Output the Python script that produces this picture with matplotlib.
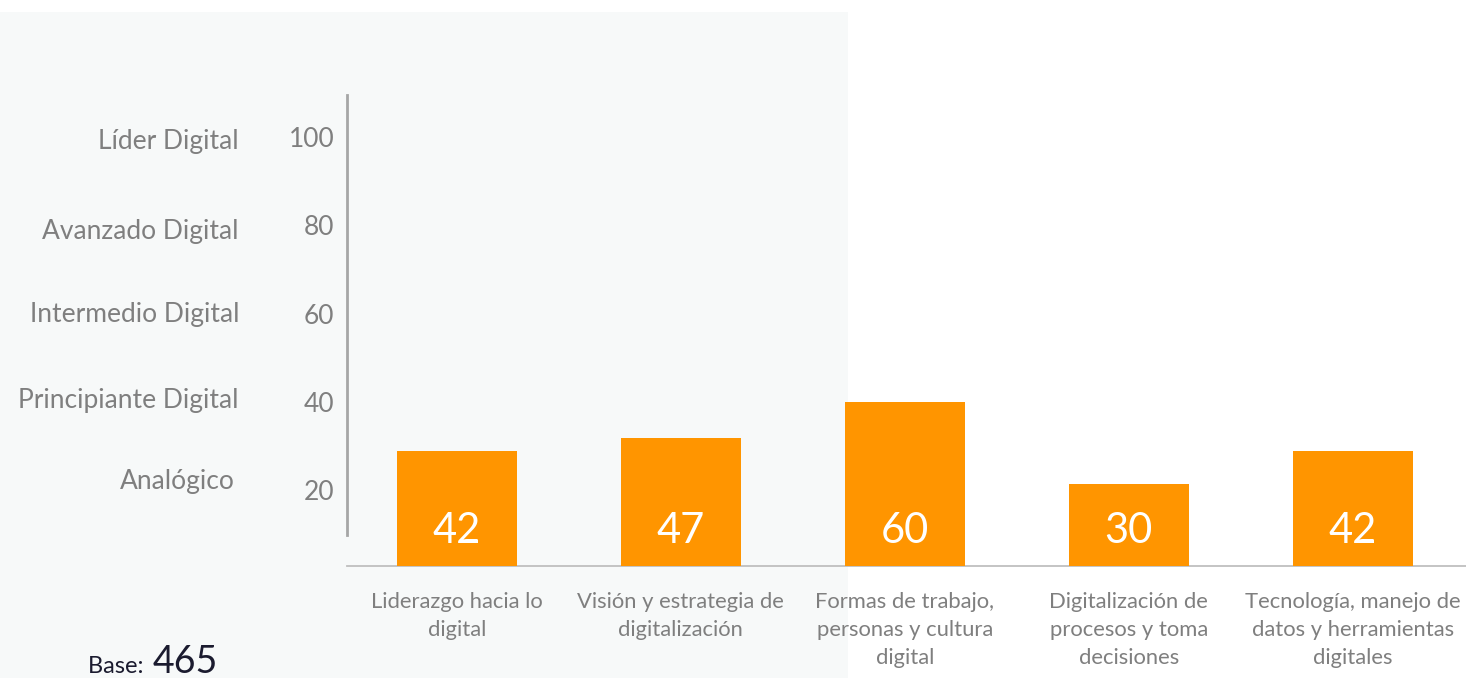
import matplotlib.pyplot as plt
from matplotlib.transforms import blended_transform_factory, offset_copy
from matplotlib.patches import Rectangle

plt.rcParams['font.family'] = ['Lato', 'DejaVu Sans']

# datos
categorias = ['Liderazgo hacia lo\ndigital',
              'Visión y estrategia de\ndigitalización',
              'Formas de trabajo,\npersonas y cultura\ndigital',
              'Digitalización de\nprocesos y toma\ndecisiones',
              'Tecnología, manejo de\ndatos y herramientas\ndigitales']
valores = [42, 47, 60, 30, 42]
escala_ticks = [100, 80, 60, 40, 20]
niveles = ['Líder Digital', 'Avanzado Digital', 'Intermedio Digital',
           'Principiante Digital', 'Analógico']
base_n = 465

GRIS = '#7F7F7F'
NARANJA = '#FF9500'
W, H = 1466, 678

fig = plt.figure(figsize=(W / 100, H / 100), dpi=100)
fig.patch.set_facecolor('white')

# panel gris claro a la izquierda
fig.patches.append(Rectangle((0, 0), 848 / W, (H - 12) / H, transform=fig.transFigure,
                             facecolor='#F7F9F9', edgecolor='none', zorder=-10))

rect = [347 / W, (H - 566) / H, (W - 347) / W, (566 - 95) / H]
ax = fig.add_axes(rect)
ax.patch.set_alpha(0)
x = list(range(len(valores)))
barras = ax.bar(x, valores, width=0.535, color=NARANJA, zorder=3)
ax.set_xlim(-0.49, 4.505)
ax.set_ylim(0, 172.5)

for b, v in zip(barras, valores):
    ax.text(b.get_x() + b.get_width() / 2, 12.8, str(v), ha='center', va='center',
            color='white', fontsize=30)

ax.set_xticks(x)
ax.set_xticklabels(categorias, fontsize=15.8, color=GRIS, linespacing=1.5, va='top')
ax.tick_params(axis='x', length=0, pad=18.5)
ax.set_yticks([])
for s in ['top', 'right']:
    ax.spines[s].set_visible(False)
ax.spines['bottom'].set_color('#BFBFBF')
ax.spines['bottom'].set_linewidth(1.3)
ax.spines['left'].set_color('#A6A6A6')
ax.spines['left'].set_linewidth(2)
ax.spines['left'].set_bounds(11.4, 172.5)

# escala de madurez (eje aparte)
ax2 = fig.add_axes(rect, frameon=False)
ax2.set_ylim(2.8, 109.5)
ax2.set_xticks([])
ax2.set_yticks(escala_ticks)
ax2.set_yticklabels([str(t) for t in escala_ticks], fontsize=19, color=GRIS)
ax2.tick_params(axis='y', length=0, pad=9)
ax2.patch.set_alpha(0)

tr = blended_transform_factory(fig.transFigure, ax2.transData)
desplaz_px = [-5, -6, -1, 1, 9]
for t, nombre, d in zip(escala_ticks, niveles, desplaz_px):
    xr = 235 if nombre == 'Analógico' else 239
    ax2.text(xr / W, t, nombre, ha='right', va='center', fontsize=19, color=GRIS,
             transform=offset_copy(tr, fig=fig, x=0, y=d * 0.72, units='points'))

fig.text(88 / W, 5 / H, 'Base: ', fontsize=17, color='#1B1B2F', ha='left', va='baseline')
fig.text(153 / W, 5 / H, str(base_n), fontsize=27, color='#1B1B2F', ha='left', va='baseline')

fig.savefig('out.png', dpi=100)
